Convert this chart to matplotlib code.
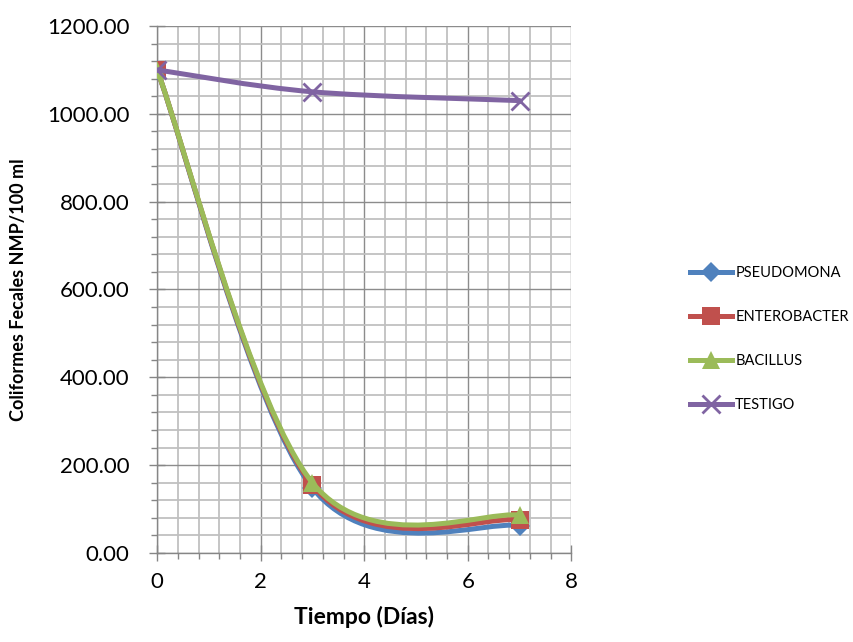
# -*- coding: utf-8 -*-
import numpy as np
import matplotlib
matplotlib.use('Agg')
import matplotlib.pyplot as plt
from matplotlib.path import Path
from matplotlib.patches import PathPatch
from matplotlib.lines import Line2D
from matplotlib.ticker import MultipleLocator, FormatStrFormatter

plt.rcParams['font.family'] = ['Lato', 'DejaVu Sans']

# dias de muestreo y conteos NMP/100 ml
dias = [0, 3, 7]
pseudomona = [1100, 148, 62]
enterobacter = [1100, 155, 75]
bacillus = [1100, 160, 86]
testigo = [1100, 1050, 1030]

nombres = ['PSEUDOMONA', 'ENTEROBACTER', 'BACILLUS', 'TESTIGO']
colores = ['#4F81BD', '#C0504D', '#9BBB59', '#8064A2']
marcas = ['D', 's', '^', 'x']
tam_marca = [10, 13, 13, 13]


def curva_suave(x, y):
    # bezier tipo catmull-rom (linea suavizada de excel)
    p = np.column_stack([x, y]).astype(float)
    n = len(p)
    verts = [p[0]]
    codes = [Path.MOVETO]
    for i in range(n - 1):
        p0 = p[i - 1] if i > 0 else p[i]
        p1 = p[i]
        p2 = p[i + 1]
        p3 = p[i + 2] if i + 2 < n else p[i + 1]
        c1 = p1 + (p2 - p0) / 6.0
        c2 = p2 - (p3 - p1) / 6.0
        verts += [c1, c2, p2]
        codes += [Path.CURVE4] * 3
    return Path(verts, codes)


fig = plt.figure(figsize=(8.54, 6.42), dpi=100)
ax = fig.add_axes([0.184, 0.1386, 0.485, 0.821])

series = [pseudomona, enterobacter, bacillus, testigo]
handles = []
for k, ys in enumerate(series):
    z = 3 + k
    pp = PathPatch(curva_suave(dias, ys), facecolor='none', edgecolor=colores[k],
                   lw=3.6, capstyle='round', joinstyle='round', zorder=z)
    ax.add_patch(pp)
    if marcas[k] == 'x':
        ax.plot(dias, ys, linestyle='none', marker='x', ms=tam_marca[k],
                mew=2.0, color=colores[k], zorder=z + 0.5)
    else:
        ax.plot(dias, ys, linestyle='none', marker=marcas[k], ms=tam_marca[k],
                mew=0, color=colores[k], zorder=z + 0.5)
    handles.append(Line2D([], [], color=colores[k], lw=3.6, marker=marcas[k],
                          ms=tam_marca[k], mew=2.0 if marcas[k] == 'x' else 0))

ax.set_xlim(0, 8)
ax.set_ylim(0, 1200)
ax.xaxis.set_major_locator(MultipleLocator(2))
ax.xaxis.set_minor_locator(MultipleLocator(0.4))
ax.yaxis.set_major_locator(MultipleLocator(200))
ax.yaxis.set_minor_locator(MultipleLocator(40))
ax.yaxis.set_major_formatter(FormatStrFormatter('%.2f'))

ax.grid(which='minor', color='#C0C0C0', lw=1.3, zorder=0)
ax.grid(which='major', color='#8C8C8C', lw=1.0, zorder=1)
ax.set_axisbelow(True)
for s in ['top', 'right']:
    ax.spines[s].set_visible(False)
for s in ['left', 'bottom']:
    ax.spines[s].set_color('#868686')
    ax.spines[s].set_linewidth(1.0)
ax.tick_params(which='major', direction='inout', length=12, width=1.0,
               color='#868686', labelsize=16)
ax.tick_params(axis='y', which='major', pad=14)
ax.tick_params(axis='x', which='major', pad=8)
ax.tick_params(which='minor', direction='out', length=4, width=1.0,
               color='#868686')

ax.set_xlabel('Tiempo (Días)', fontsize=16.5, fontweight='bold', labelpad=10)
ax.set_ylabel('Coliformes Fecales NMP/100 ml', fontsize=13, fontweight='bold',
              labelpad=14)

fig.legend(handles, nombres, loc='center left', bbox_to_anchor=(0.808, 0.472),
           frameon=False, fontsize=10.5, handlelength=2.9, labelspacing=2.05,
           handletextpad=0.2, borderaxespad=0, borderpad=0)

fig.savefig('out.png', dpi=100)
